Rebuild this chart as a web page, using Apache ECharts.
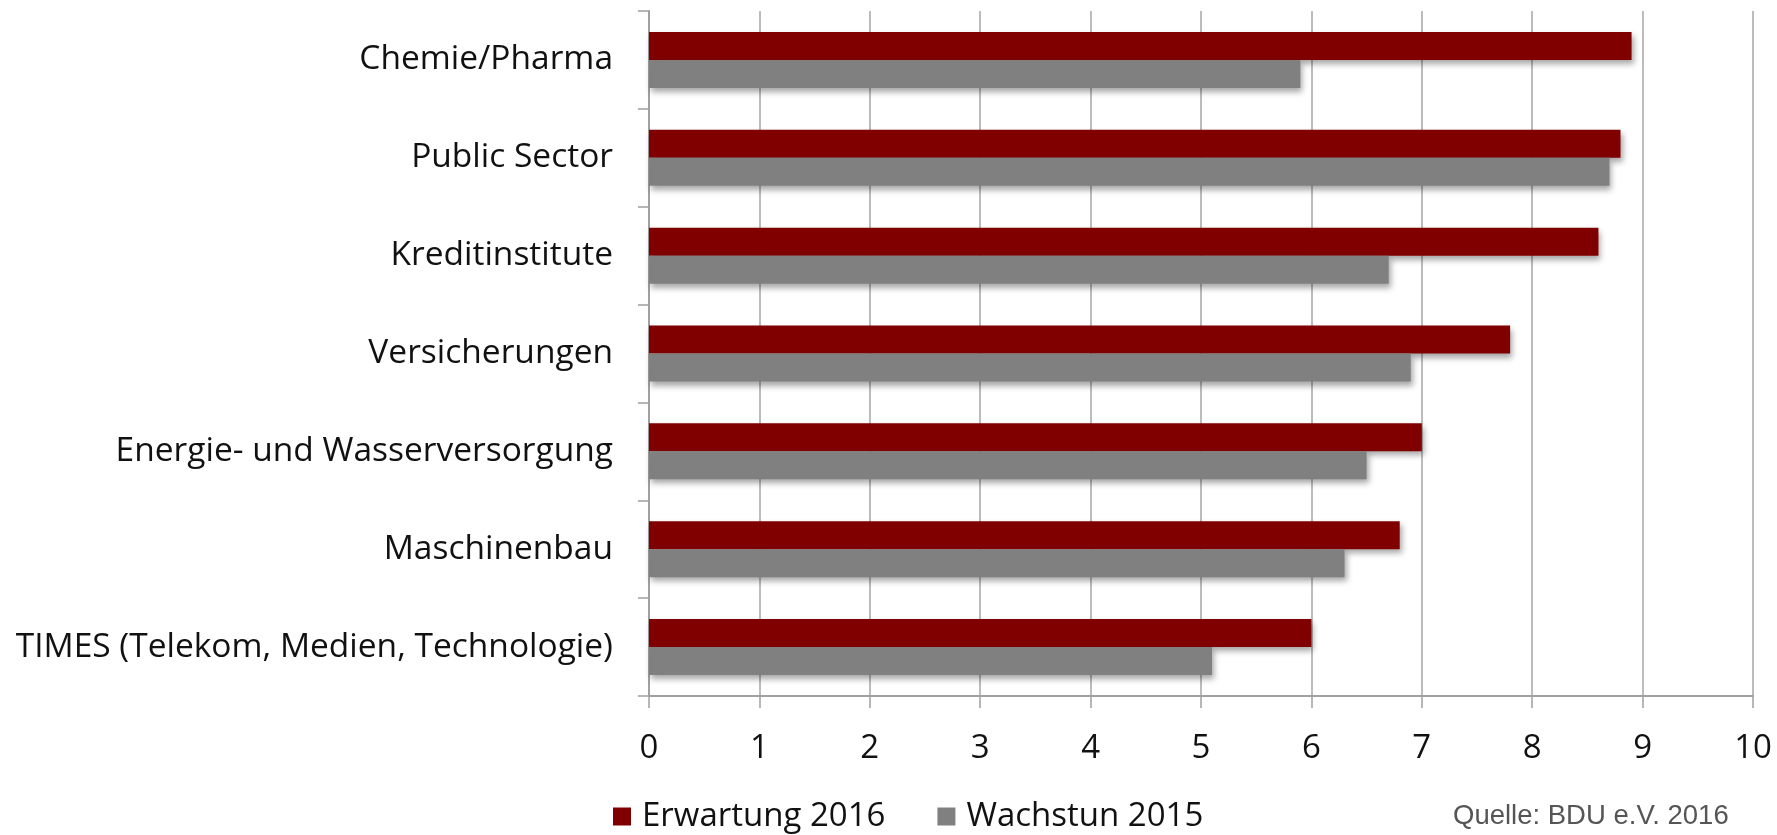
<!DOCTYPE html>
<html>
<head>
<meta charset="utf-8">
<script src="https://cdn.jsdelivr.net/npm/echarts@6/dist/echarts.min.js"></script>
<style>
html,body{margin:0;padding:0;background:#fff;}
#chart{width:1777px;height:835px;}
</style>
</head>
<body>
<div id="chart"></div>
<script>
// categories listed bottom -> top (ECharts category y axis starts at bottom)
const categories = [
  "TIMES (Telekom, Medien, Technologie)",
  "Maschinenbau",
  "Energie- und Wasserversorgung",
  "Versicherungen",
  "Kreditinstitute",
  "Public Sector",
  "Chemie/Pharma"
];
const erwartung2016 = [6.0, 6.8, 7.0, 7.8, 8.6, 8.8, 8.9];
const wachstum2015 = [5.1, 6.3, 6.5, 6.9, 6.7, 8.7, 5.9];
const seriesNames = ["Erwartung 2016", "Wachstun 2015"];
const sourceText = "Quelle: BDU e.V. 2016";

const chart = echarts.init(document.getElementById('chart'), null, {renderer: 'canvas'});
const font = "'Open Sans', sans-serif";
const shadow = {shadowColor: 'rgba(0,0,0,0.35)', shadowBlur: 6, shadowOffsetX: 2, shadowOffsetY: 4};

chart.setOption({
  animation: false,
  backgroundColor: '#ffffff',
  grid: {left: 649, right: 24, top: 11, bottom: 139, containLabel: false},
  legend: {
    left: 608, top: 795,
    itemWidth: 18, itemHeight: 18, itemGap: 52,
    icon: 'rect',
    textStyle: {fontFamily: font, fontSize: 33, color: '#111', padding: [0, 0, 0, 6]},
    data: seriesNames
  },
  xAxis: {
    type: 'value', min: 0, max: 10, interval: 1,
    axisLine: {show: true, lineStyle: {color: '#a0a0a0', width: 2}},
    axisTick: {show: true, length: 12, lineStyle: {color: '#a0a0a0', width: 1.5}},
    splitLine: {show: true, lineStyle: {color: '#a6a6a6', width: 1.5}},
    axisLabel: {fontFamily: font, fontSize: 33, color: '#111', margin: 36}
  },
  yAxis: {
    type: 'category', data: categories,
    axisLine: {show: true, lineStyle: {color: '#a0a0a0', width: 2}},
    axisTick: {show: true, length: 11, lineStyle: {color: '#a0a0a0', width: 1.5}},
    axisLabel: {fontFamily: font, fontSize: 33.5, color: '#111', margin: 36}
  },
  series: [
    {
      name: seriesNames[0], type: 'bar', data: erwartung2016,
      barWidth: 28, barGap: '0%',
      itemStyle: Object.assign({color: '#800000'}, shadow)
    },
    {
      name: seriesNames[1], type: 'bar', data: wachstum2015,
      barWidth: 28, barGap: '0%',
      itemStyle: Object.assign({color: '#808080'}, shadow)
    }
  ],
  graphic: [{
    type: 'text', left: 1453, top: 802,
    style: {text: sourceText, font: "27.5px 'Liberation Sans', Arial, sans-serif", fill: '#555555'}
  }]
});
</script>
</body>
</html>
